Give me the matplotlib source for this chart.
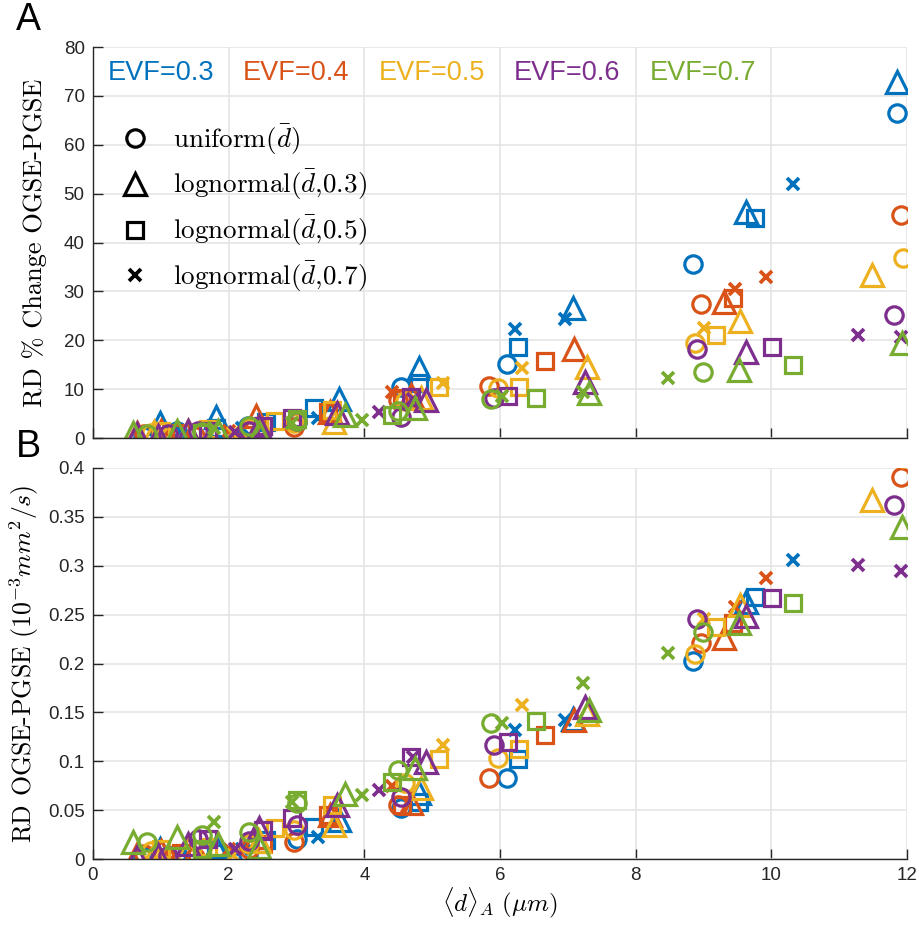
import matplotlib
matplotlib.use("Agg")
import matplotlib.pyplot as plt
import matplotlib.ticker as ticker
from matplotlib.lines import Line2D

plt.rcParams['font.family'] = ['Liberation Sans', 'DejaVu Sans']
plt.rcParams['mathtext.fontset'] = 'cm'
plt.rcParams['axes.unicode_minus'] = False

# <d>_A (um), RD % change OGSE-PGSE, RD OGSE-PGSE (1e-3 mm^2/s)
# EVF = 0.3
evf03_uni_d = [0.74, 1.24, 2.28, 3.0, 4.54, 6.11, 8.84, 11.85]
evf03_uni_pct = [0.5, 1.5, 2.5, 3.2, 10.4, 15.1, 35.6, 66.5]
evf03_uni_rd = [0.003, 0.005, 0.005, 0.02, 0.052, 0.083, 0.203, 0.43]
evf03_ln3_d = [0.99, 1.82, 3.63, 4.81, 7.07, 9.62, 11.85]
evf03_ln3_pct = [3.0, 4.3, 8.0, 14.3, 26.6, 46.2, 72.8]
evf03_ln3_rd = [0.01, 0.012, 0.040, 0.068, 0.143, 0.263, 0.45]
evf03_ln5_d = [1.82, 2.55, 3.26, 4.81, 6.27, 9.76]
evf03_ln5_pct = [2.0, 3.3, 6.2, 11.2, 18.6, 45.0]
evf03_ln5_rd = [0.006, 0.019, 0.033, 0.058, 0.102, 0.268]
evf03_ln7_d = [1.3, 2.2, 3.31, 6.22, 6.96, 10.32]
evf03_ln7_pct = [1.5, 2.0, 4.1, 22.3, 24.3, 52.0]
evf03_ln7_rd = [0.008, 0.01, 0.022, 0.132, 0.142, 0.306]

# EVF = 0.4
evf04_uni_d = [0.75, 1.5, 2.3, 2.96, 4.49, 5.84, 8.96, 11.91]
evf04_uni_pct = [0.8, 0.5, 1.5, 2.2, 7.8, 10.6, 27.4, 45.6]
evf04_uni_rd = [0.005, 0.002, 0.01, 0.017, 0.055, 0.083, 0.221, 0.391]
evf04_ln3_d = [0.65, 1.0, 2.41, 3.49, 4.69, 7.09, 9.3]
evf04_ln3_pct = [1.0, 1.5, 4.5, 5.3, 8.8, 18.2, 27.8]
evf04_ln3_rd = [0.005, 0.008, 0.022, 0.045, 0.057, 0.142, 0.226]
evf04_ln5_d = [1.3, 2.5, 3.46, 4.55, 6.67, 9.44]
evf04_ln5_pct = [1.0, 2.5, 5.3, 8.2, 15.7, 28.6]
evf04_ln5_rd = [0.006, 0.015, 0.045, 0.055, 0.127, 0.241]
evf04_ln7_d = [1.1, 2.0, 4.41, 9.46, 9.92]
evf04_ln7_pct = [1.0, 1.5, 9.4, 30.4, 33.0]
evf04_ln7_rd = [0.004, 0.01, 0.075, 0.258, 0.287]

# EVF = 0.5
evf05_uni_d = [0.85, 1.6, 2.3, 2.96, 4.6, 5.97, 8.87, 11.94]
evf05_uni_pct = [1.0, 1.5, 2.0, 3.0, 7.5, 10.2, 19.4, 36.8]
evf05_uni_rd = [0.008, 0.01, 0.015, 0.030, 0.078, 0.103, 0.210, 0.41]
evf05_ln3_d = [0.9, 1.4, 2.45, 3.56, 4.84, 7.28, 9.54, 11.49]
evf05_ln3_pct = [1.2, 1.5, 2.5, 3.3, 8.2, 14.5, 24.0, 33.3]
evf05_ln3_rd = [0.005, 0.01, 0.018, 0.035, 0.073, 0.148, 0.260, 0.367]
evf05_ln5_d = [1.0, 1.7, 2.68, 3.53, 5.1, 6.28, 9.19]
evf05_ln5_pct = [1.5, 1.8, 3.4, 5.8, 10.4, 10.4, 21.0]
evf05_ln5_rd = [0.01, 0.012, 0.032, 0.055, 0.102, 0.113, 0.237]
evf05_ln7_d = [1.0, 2.06, 5.16, 6.32, 9.0]
evf05_ln7_pct = [0.8, 1.0, 11.2, 14.3, 22.5]
evf05_ln7_rd = [0.006, 0.004, 0.117, 0.158, 0.246]

# EVF = 0.6
evf06_uni_d = [1.1, 1.55, 2.3, 3.0, 4.54, 5.91, 8.9, 11.81]
evf06_uni_pct = [0.8, 1.5, 1.5, 3.5, 4.3, 8.2, 18.2, 25.2]
evf06_uni_rd = [0.003, 0.02, 0.018, 0.035, 0.063, 0.117, 0.246, 0.362]
evf06_ln3_d = [0.65, 0.96, 1.4, 2.45, 3.59, 4.91, 7.26, 9.63]
evf06_ln3_pct = [0.8, 0.5, 1.5, 2.5, 5.1, 7.8, 11.5, 17.6]
evf06_ln3_rd = [0.002, 0.004, 0.015, 0.032, 0.055, 0.099, 0.156, 0.249]
evf06_ln5_d = [1.7, 2.5, 2.94, 4.69, 6.12, 10.01]
evf06_ln5_pct = [1.5, 2.5, 4.1, 8.4, 8.6, 18.6]
evf06_ln5_rd = [0.02, 0.03, 0.042, 0.104, 0.120, 0.267]
evf06_ln7_d = [2.1, 4.22, 4.72, 11.28, 11.91]
evf06_ln7_pct = [1.2, 5.3, 8.0, 21.1, 20.7]
evf06_ln7_rd = [0.01, 0.071, 0.104, 0.301, 0.295]

# EVF = 0.7
evf07_uni_d = [0.8, 1.6, 2.3, 3.01, 4.49, 5.87, 8.99]
evf07_uni_pct = [0.8, 1.2, 2.5, 3.5, 5.5, 8.0, 13.5]
evf07_uni_rd = [0.017, 0.025, 0.028, 0.057, 0.091, 0.139, 0.232]
evf07_ln3_d = [0.59, 1.24, 1.85, 2.45, 3.71, 4.74, 7.31, 9.53, 11.93]
evf07_ln3_pct = [1.0, 1.5, 1.5, 1.0, 4.7, 6.1, 9.2, 13.9, 19.5]
evf07_ln3_rd = [0.017, 0.023, 0.015, 0.012, 0.067, 0.093, 0.152, 0.241, 0.340]
evf07_ln5_d = [1.6, 3.01, 4.41, 6.53, 10.32]
evf07_ln5_pct = [1.0, 3.8, 4.7, 8.2, 14.9]
evf07_ln5_rd = [0.01, 0.06, 0.079, 0.141, 0.262]
evf07_ln7_d = [1.79, 2.93, 3.96, 6.03, 7.22, 8.47]
evf07_ln7_pct = [2.0, 3.0, 3.7, 8.5, 9.5, 12.3]
evf07_ln7_rd = [0.038, 0.058, 0.065, 0.139, 0.180, 0.211]

evf_labels = ['EVF=0.3', 'EVF=0.4', 'EVF=0.5', 'EVF=0.6', 'EVF=0.7']
dist_labels = [r'uniform($\bar{d}$)', r'lognormal($\bar{d}$,0.3)',
               r'lognormal($\bar{d}$,0.5)', r'lognormal($\bar{d}$,0.7)']

colors = ['#0072BD', '#D95319', '#EDB120', '#7E2F8E', '#77AC30']
markers = ['o', '^', 's', 'x']
msizes = {'o': 12.5, '^': 15.5, 's': 11.5, 'x': 9}

series = [
    [(evf03_uni_d, evf03_uni_pct, evf03_uni_rd), (evf03_ln3_d, evf03_ln3_pct, evf03_ln3_rd),
     (evf03_ln5_d, evf03_ln5_pct, evf03_ln5_rd), (evf03_ln7_d, evf03_ln7_pct, evf03_ln7_rd)],
    [(evf04_uni_d, evf04_uni_pct, evf04_uni_rd), (evf04_ln3_d, evf04_ln3_pct, evf04_ln3_rd),
     (evf04_ln5_d, evf04_ln5_pct, evf04_ln5_rd), (evf04_ln7_d, evf04_ln7_pct, evf04_ln7_rd)],
    [(evf05_uni_d, evf05_uni_pct, evf05_uni_rd), (evf05_ln3_d, evf05_ln3_pct, evf05_ln3_rd),
     (evf05_ln5_d, evf05_ln5_pct, evf05_ln5_rd), (evf05_ln7_d, evf05_ln7_pct, evf05_ln7_rd)],
    [(evf06_uni_d, evf06_uni_pct, evf06_uni_rd), (evf06_ln3_d, evf06_ln3_pct, evf06_ln3_rd),
     (evf06_ln5_d, evf06_ln5_pct, evf06_ln5_rd), (evf06_ln7_d, evf06_ln7_pct, evf06_ln7_rd)],
    [(evf07_uni_d, evf07_uni_pct, evf07_uni_rd), (evf07_ln3_d, evf07_ln3_pct, evf07_ln3_rd),
     (evf07_ln5_d, evf07_ln5_pct, evf07_ln5_rd), (evf07_ln7_d, evf07_ln7_pct, evf07_ln7_rd)],
]

W, H = 919, 925
fig = plt.figure(figsize=(W / 100, H / 100), dpi=100)
axA = fig.add_axes([93 / W, 1 - 438 / H, 814 / W, 391 / H])
axB = fig.add_axes([93 / W, 1 - 859 / H, 814 / W, 391 / H])

axcol = '#262626'
for ax in (axA, axB):
    ax.set_xlim(0, 12)
    ax.set_xticks(range(0, 13, 2))
    ax.grid(True, color='#e3e3e3', linewidth=1.1)
    ax.set_axisbelow(True)
    for s in ('top', 'right'):
        ax.spines[s].set_visible(False)
    for s in ('left', 'bottom'):
        ax.spines[s].set_color(axcol)
        ax.spines[s].set_linewidth(1.0)
    ax.tick_params(direction='in', length=7, width=1.0, color=axcol,
                   labelcolor=axcol, labelsize=13.5, pad=6)

axA.set_ylim(0, 80)
axA.set_yticks(range(0, 81, 10))
axA.tick_params(axis='x', labelbottom=False)
axB.set_ylim(0, 0.4)
axB.set_yticks([i * 0.05 for i in range(9)])
axB.yaxis.set_major_formatter(ticker.FuncFormatter(lambda v, p: '%g' % round(v, 2)))

for color, dists in zip(colors, series):
    for marker, (d, pct, rd) in zip(markers, dists):
        kw = dict(linestyle='none', marker=marker, ms=msizes[marker], mfc='none',
                  mec=color, mew=2.3 if marker != 'x' else 2.7)
        axA.plot(d, pct, **kw)
        axB.plot(d, rd, **kw)

# colour key for the extracellular volume fractions
for i, (lab, c) in enumerate(zip(evf_labels, colors)):
    axA.text(0.018 + 0.1665 * i, 0.933, lab, color=c, fontsize=19.5,
             transform=axA.transAxes, ha='left', va='center')

handles = [Line2D([], [], linestyle='none', marker=m, ms=msizes[m], mfc='none',
                  mec='k', mew=2.3 if m != 'x' else 2.7) for m in markers]
axA.legend(handles, dist_labels, loc='upper left', bbox_to_anchor=(0.022, 0.835),
           frameon=False, prop={'family': 'cmr10', 'size': 19.5},
           handlelength=1.0, handletextpad=0.9, labelspacing=0.42, borderaxespad=0)

axA.set_ylabel('RD % Change OGSE-PGSE', family='cmr10', fontsize=19, labelpad=12)
axB.set_ylabel(r'RD OGSE-PGSE $(10^{-3}mm^2/s)$', family='cmr10', fontsize=18.5, labelpad=5)
axB.set_xlabel(r'$\langle d\rangle_A\ (\mu m)$', fontsize=18, labelpad=1)

fig.text(28 / W, 1 - 20 / H, 'A', fontsize=27, ha='center', va='center')
fig.text(28 / W, 1 - 447 / H, 'B', fontsize=27, ha='center', va='center')

fig.savefig('out.png', dpi=100)
